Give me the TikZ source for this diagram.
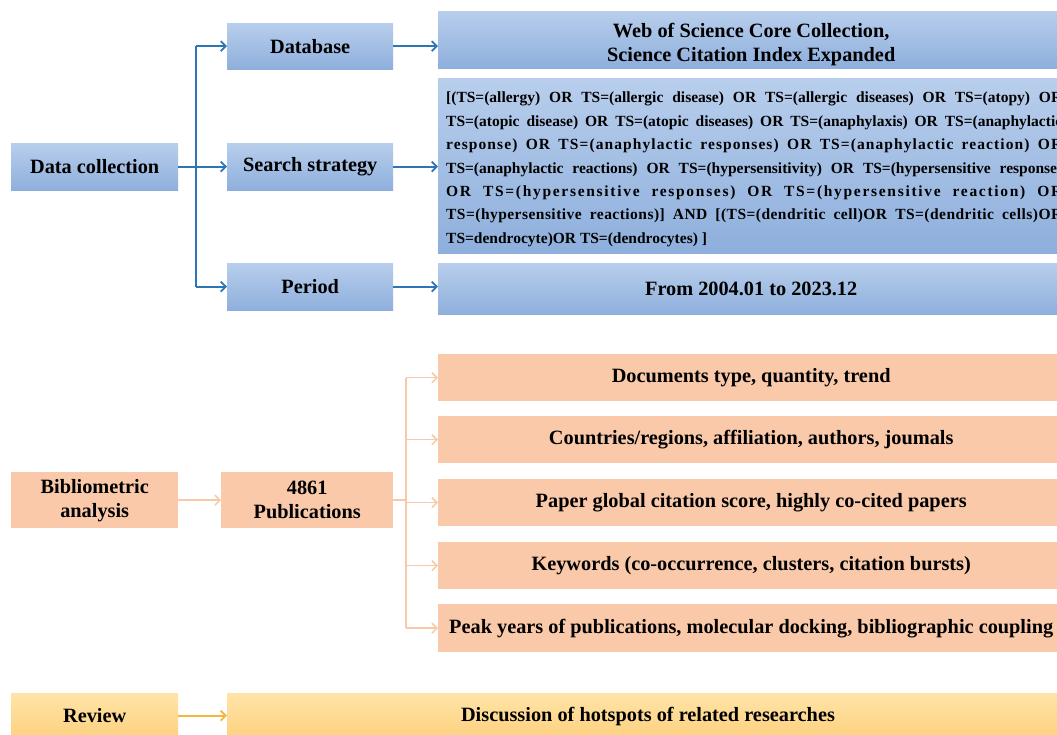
\documentclass[tikz,border=0pt]{standalone}
\usepackage{fontspec}
\setmainfont{Liberation Serif}
\usetikzlibrary{arrows.meta}
\definecolor{bluetop}{HTML}{B8CEEC}
\definecolor{bluebot}{HTML}{8EAFDC}
\definecolor{bluearrow}{HTML}{2E75B6}
\definecolor{orangebox}{HTML}{F9C9A9}
\definecolor{orangeline}{HTML}{F8C8A8}
\definecolor{yellowtop}{HTML}{FFE4A8}
\definecolor{yellowbot}{HTML}{FDD17F}
\definecolor{yellowarrow}{HTML}{F6B73C}
\begin{document}
\begin{tikzpicture}[x=1pt,y=-1pt,
  boxbase/.style={rectangle, draw=none, inner sep=0pt, anchor=north west, align=center,
    font=\fontsize{20.3}{24}\selectfont\bfseries},
  bluebox/.style={boxbase, top color=bluetop, bottom color=bluebot},
  orangebox/.style={boxbase, fill=orangebox},
  yellowbox/.style={boxbase, top color=yellowtop, bottom color=yellowbot},
  bluearr/.style={draw=bluearrow, line width=1.8pt, -{Straight Barb[length=5pt,width=10pt,line width=1.8pt]}},
  blueline/.style={draw=bluearrow, line width=1.8pt},
  orangearr/.style={draw=orangeline, line width=1.5pt, -{Straight Barb[length=5pt,width=10pt,line width=1.5pt]}},
  orangeline/.style={draw=orangeline, line width=1.5pt},
  yellowarr/.style={draw=yellowarrow, line width=1.8pt, -{Straight Barb[length=5pt,width=10pt,line width=1.8pt]}},
  plaintext/.style={inner sep=0pt, font=\fontsize{20.3}{24}\selectfont\bfseries},
  querytext/.style={inner sep=0pt, anchor=north west, text width=616pt, align=justify,
    font=\fontsize{15.5}{23.4}\selectfont\bfseries}
]
\useasboundingbox (0,0) rectangle (1057,734);
\clip (0,0) rectangle (1057,734);
\fill[white] (0,0) rectangle (1057,734);

% ---------- Data collection ----------
\node[bluebox, minimum width=167pt, minimum height=47pt] (dc) at (11,143) {Data collection};
\node[bluebox, minimum width=166pt, minimum height=46pt] (db) at (227,23) {Database};
\node[bluebox, minimum width=166pt, minimum height=47pt] (ss) at (227,143) {Search strategy};
\node[bluebox, minimum width=166pt, minimum height=47pt] (per) at (227,263) {Period};

\node[bluebox, minimum width=626pt, minimum height=57pt] (wos) at (438,11)
  {\rule{0pt}{23pt}Web of Science Core Collection,\\Science Citation Index Expanded};
\node[bluebox, minimum width=626pt, minimum height=175pt] (sst) at (438,78) {};
\node[querytext] (sstt) at (446,92)
  {[(TS=(allergy) OR TS=(allergic disease) OR TS=(allergic diseases) OR TS=(atopy) OR\linebreak
   TS=(atopic disease) OR TS=(atopic diseases) OR TS=(anaphylaxis) OR TS=(anaphylactic\linebreak
   {\addfontfeature{LetterSpace=7}response) OR TS=(anaphylactic responses) OR TS=(anaphylactic reaction) OR}\linebreak
   TS=(anaphylactic reactions) OR TS=(hypersensitivity) OR TS=(hypersensitive response)\linebreak
   {\addfontfeature{LetterSpace=11}OR TS=(hypersensitive responses) OR TS=(hypersensitive reaction) OR}\linebreak
   {\addfontfeature{LetterSpace=3}TS=(hypersensitive reactions)] AND [(TS=(dendritic cell)OR TS=(dendritic cells)OR}\linebreak
   TS=dendrocyte)OR TS=(dendrocytes) ]};
\node[bluebox, minimum width=626pt, minimum height=51pt] (pert) at (438,263) {From 2004.01 to 2023.12};

\coordinate (btrunk) at (196,0);
\draw[blueline] (btrunk |- db.west) -- (btrunk |- per.west);
\draw[bluearr] (dc.east) -- (ss.west);
\draw[bluearr] (btrunk |- db.west) -- (db.west);
\draw[bluearr] (btrunk |- per.west) -- (per.west);
\draw[bluearr] (db.east) -- (db.east -| wos.west);
\draw[bluearr] (ss.east) -- (ss.east -| sst.west);
\draw[bluearr] (per.east) -- (per.east -| pert.west);

% ---------- Bibliometric analysis ----------
\node[orangebox, minimum width=167pt, minimum height=56pt] (ba) at (11,472) {Bibliometric\\analysis};
\node[orangebox, minimum width=172pt, minimum height=56pt] (pub) at (221,472) {4861\\Publications};

\node[orangebox, minimum width=626pt, minimum height=47pt] (o1) at (438,354) {Documents type, quantity, trend};
\node[orangebox, minimum width=626pt, minimum height=47pt] (o2) at (438,416) {Countries/regions, affiliation, authors, joumals};
\node[orangebox, minimum width=626pt, minimum height=47pt] (o3) at (438,479) {Paper global citation score, highly co-cited papers};
\node[orangebox, minimum width=626pt, minimum height=47pt] (o4) at (438,542) {Keywords (co-occurrence, clusters, citation bursts)};
\node[orangebox, minimum width=626pt, minimum height=48pt] (o5) at (438,604) {Peak years of publications, molecular docking, bibliographic coupling};

\coordinate (otrunk) at (406,0);
\draw[orangearr] (ba.east) -- (pub.west);
\draw[orangeline] (pub.east) -- (pub.east -| otrunk);
\draw[orangeline] (otrunk |- o1.west) -- (otrunk |- o5.west);
\foreach \b in {o1,o2,o3,o4,o5}
  \draw[orangearr] (otrunk |- \b.west) -- (\b.west);

% ---------- Review ----------
\node[yellowbox, minimum width=167pt, minimum height=45pt] (rev) at (11,693) {Review};
\node[yellowbox, minimum width=843pt, minimum height=45pt] (disc) at (227,693) {};
\node[plaintext] (disct) at (648,717) {Discussion of hotspots of related researches};
\draw[yellowarr] (rev.east) -- (disc.west);
\end{tikzpicture}
\end{document}
